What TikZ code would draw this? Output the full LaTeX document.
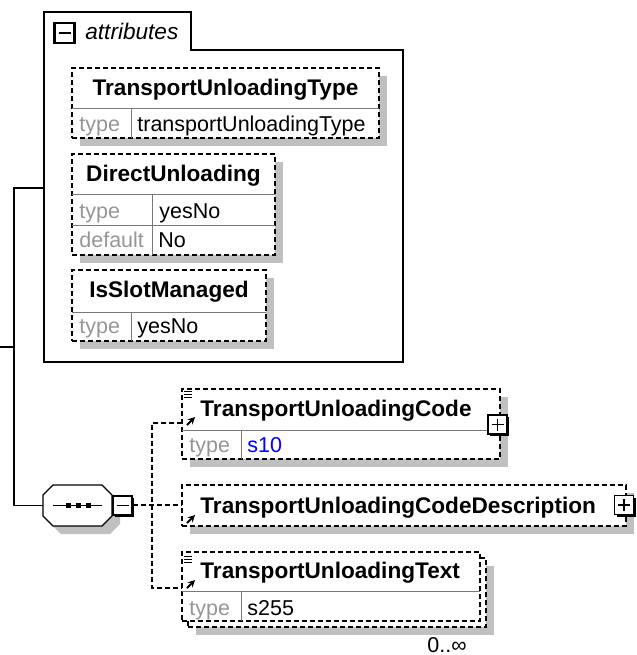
\documentclass[tikz,border=0pt]{standalone}
\usepackage{fontspec}
\setmainfont{Liberation Sans}
\usetikzlibrary{positioning,fit,shadows,arrows.meta}
\definecolor{shadegray}{RGB}{192,192,192}
\definecolor{labelgray}{RGB}{150,150,150}
\definecolor{rulegray}{RGB}{120,120,120}
\definecolor{typeblue}{RGB}{0,0,255}

\begin{document}
\begin{tikzpicture}[x=0.5pt,y=-0.5pt,
  panel/.style={draw,line width=0.75pt},
  frame/.style={draw,dash pattern=on 2.5pt off 1.5pt,line width=0.6pt,fill=white,inner sep=0pt},
  box/.style={frame,drop shadow={shadow xshift=4pt,shadow yshift=-4pt,fill=shadegray,opacity=1}},
  rowrule/.style={draw=rulegray,line width=0.5pt},
  title/.style={anchor=base west,inner sep=0pt,font=\fontsize{11.3}{13}\selectfont\bfseries},
  key/.style={anchor=base west,inner sep=0pt,text=labelgray,font=\fontsize{10.75}{13}\selectfont},
  val/.style={anchor=base west,inner sep=0pt,font=\fontsize{10.75}{13}\selectfont},
  caption/.style={anchor=base west,inner sep=0pt,font=\fontsize{11.3}{13}\selectfont\itshape},
  toggle/.style={draw,fill=white,minimum size=9.5pt,inner sep=0pt,line width=0.6pt},
  togshadow/.style={drop shadow={shadow xshift=1pt,shadow yshift=-1pt,fill=black,opacity=1}},
  seqline/.style={draw,fill=white,line width=0.6pt,
                  drop shadow={shadow xshift=4pt,shadow yshift=-4pt,fill=shadegray,opacity=1}},
  refarrow/.style={-{Stealth[length=3.5pt,width=3.5pt]},line width=0.9pt},
  link/.style={line width=0.75pt},
  dlink/.style={line width=0.6pt,dash pattern=on 2.5pt off 1.5pt}]
  \useasboundingbox (0,0) rectangle (637,655);
  % attributes panel
  \draw[panel] (44,12) -- (191,12) -- (191,50) -- (403,50) -- (403,362) -- (44,362) -- cycle;
  \node[toggle,line width=1.1pt,minimum size=10pt] (attmin) at (64.5,33) {};
  \draw[line width=0.9pt] ([xshift=-3pt]attmin.center) -- ([xshift=3pt]attmin.center);
  \node[caption] (atttitle) at (85,39.5) {attributes};
  \node[box,fit={(72,68) (379,138)}] (tut) {};
  \draw[rowrule] (72,108) -- (379,108) (131,108) -- (131,138);
  \node[title,anchor=base] (tutname) at (225.5,95) {TransportUnloadingType};
  \node[key] (tutkey) at (79,131.5) {type};
  \node[val] (tutval) at (137,131.5) {transportUnloadingType};
  \node[box,fit={(72,154) (275,255)}] (dun) {};
  \draw[rowrule] (72,194) -- (275,194) (72,225) -- (275,225) (152,194) -- (152,255);
  \node[title,anchor=base] (dunname) at (173.5,181.7) {DirectUnloading};
  \node[key] (dunkey) at (79,218) {type};
  \node[val] (dunval) at (159,218) {yesNo};
  \node[key] (dundefkey) at (79,247) {default};
  \node[val] (dundefval) at (158,247) {No};
  \node[box,fit={(72,270) (266,341)}] (ism) {};
  \draw[rowrule] (72,312) -- (266,312) (131,312) -- (131,341);
  \node[title,anchor=base] (ismname) at (169,297.7) {IsSlotManaged};
  \node[key] (ismkey) at (79,333.5) {type};
  \node[val] (ismval) at (137,333.5) {yesNo};
  % sequence
  \draw[seqline] (53,485) -- (102,485) -- (112,495) -- (112,516) -- (102,526) -- (53,526)
    -- (43,516) -- (43,495) -- cycle;
  \node[inner sep=0pt,fit={(43,485) (112,526)}] (seq) {};
  \draw[line width=0.6pt] (53,505.5) -- (102,505.5);
  \foreach \px in {68,78,88} \fill (\px-2.5,503) rectangle (\px+2.5,508);
  \node[toggle,togshadow] (seqmin) at (122.5,505.5) {};
  \draw[line width=0.6pt] ([xshift=-3pt]seqmin.center) -- ([xshift=3pt]seqmin.center);
  % elements
  \node[box,fit={(182,389) (500,459)}] (tuc) {};
  \draw[rowrule] (182,430) -- (489,430) (241,430) -- (241,459);
  \draw[line width=0.5pt] (184,391) -- (192,391) (184,394) -- (192,394) (184,397) -- (192,397);
  \draw[refarrow] (187,425) -- (195,417);
  \node[title] (tucname) at (200,416) {TransportUnloadingCode};
  \node[key] (tuckey) at (189,452) {type};
  \node[val,text=typeblue] (tucval) at (247,452) {s10};
  \node[toggle,togshadow] (tucplus) at (497.5,424.5) {};
  \draw[line width=0.6pt] ([xshift=-3pt]tucplus.center) -- ([xshift=3pt]tucplus.center)
    ([yshift=-3pt]tucplus.center) -- ([yshift=3pt]tucplus.center);
  \node[box,fit={(182,485) (626,526)}] (tcd) {};
  \draw[refarrow] (187,523) -- (195,515);
  \node[title] (tcdname) at (200,513) {TransportUnloadingCodeDescription};
  \node[toggle,togshadow] (tcdplus) at (624,505) {};
  \draw[line width=0.6pt] ([xshift=-3pt]tcdplus.center) -- ([xshift=3pt]tcdplus.center)
    ([yshift=-3pt]tcdplus.center) -- ([yshift=3pt]tcdplus.center);
  \node[box,fit={(188,558) (486,627)}] (tutback) {};
  \node[frame,fit={(182,552) (480,621)}] (tux) {};
  \draw[rowrule] (182,591) -- (480,591) (241,591) -- (241,621);
  \draw[line width=0.5pt] (184,556) -- (192,556) (184,559) -- (192,559) (184,562) -- (192,562);
  \draw[refarrow] (187,588) -- (195,580);
  \node[title] (tuxname) at (200,578) {TransportUnloadingText};
  \node[key] (tuxkey) at (189,615) {type};
  \node[val] (tuxval) at (247,615) {s255};
  \node[val,anchor=base] (tuxmult) at (447,652) {0..∞};
  % connectors
  \coordinate (root) at (0,347);
  \coordinate (spine) at (14,347);
  \coordinate (attl) at (44,188);
  \draw[link] (root) -- (spine);
  \draw[link] (attl) -- (spine |- attl) -- (spine |- seq.west) -- (seq.west);
  \coordinate (fork) at (152,505);
  \coordinate (tucin) at (182,423);
  \coordinate (tuxin) at (182,588);
  \draw[dlink] (seqmin.east |- fork) -- (tcd.west |- fork);
  \draw[dlink] (tucin) -| (fork) |- (tuxin);
\end{tikzpicture}
\end{document}
